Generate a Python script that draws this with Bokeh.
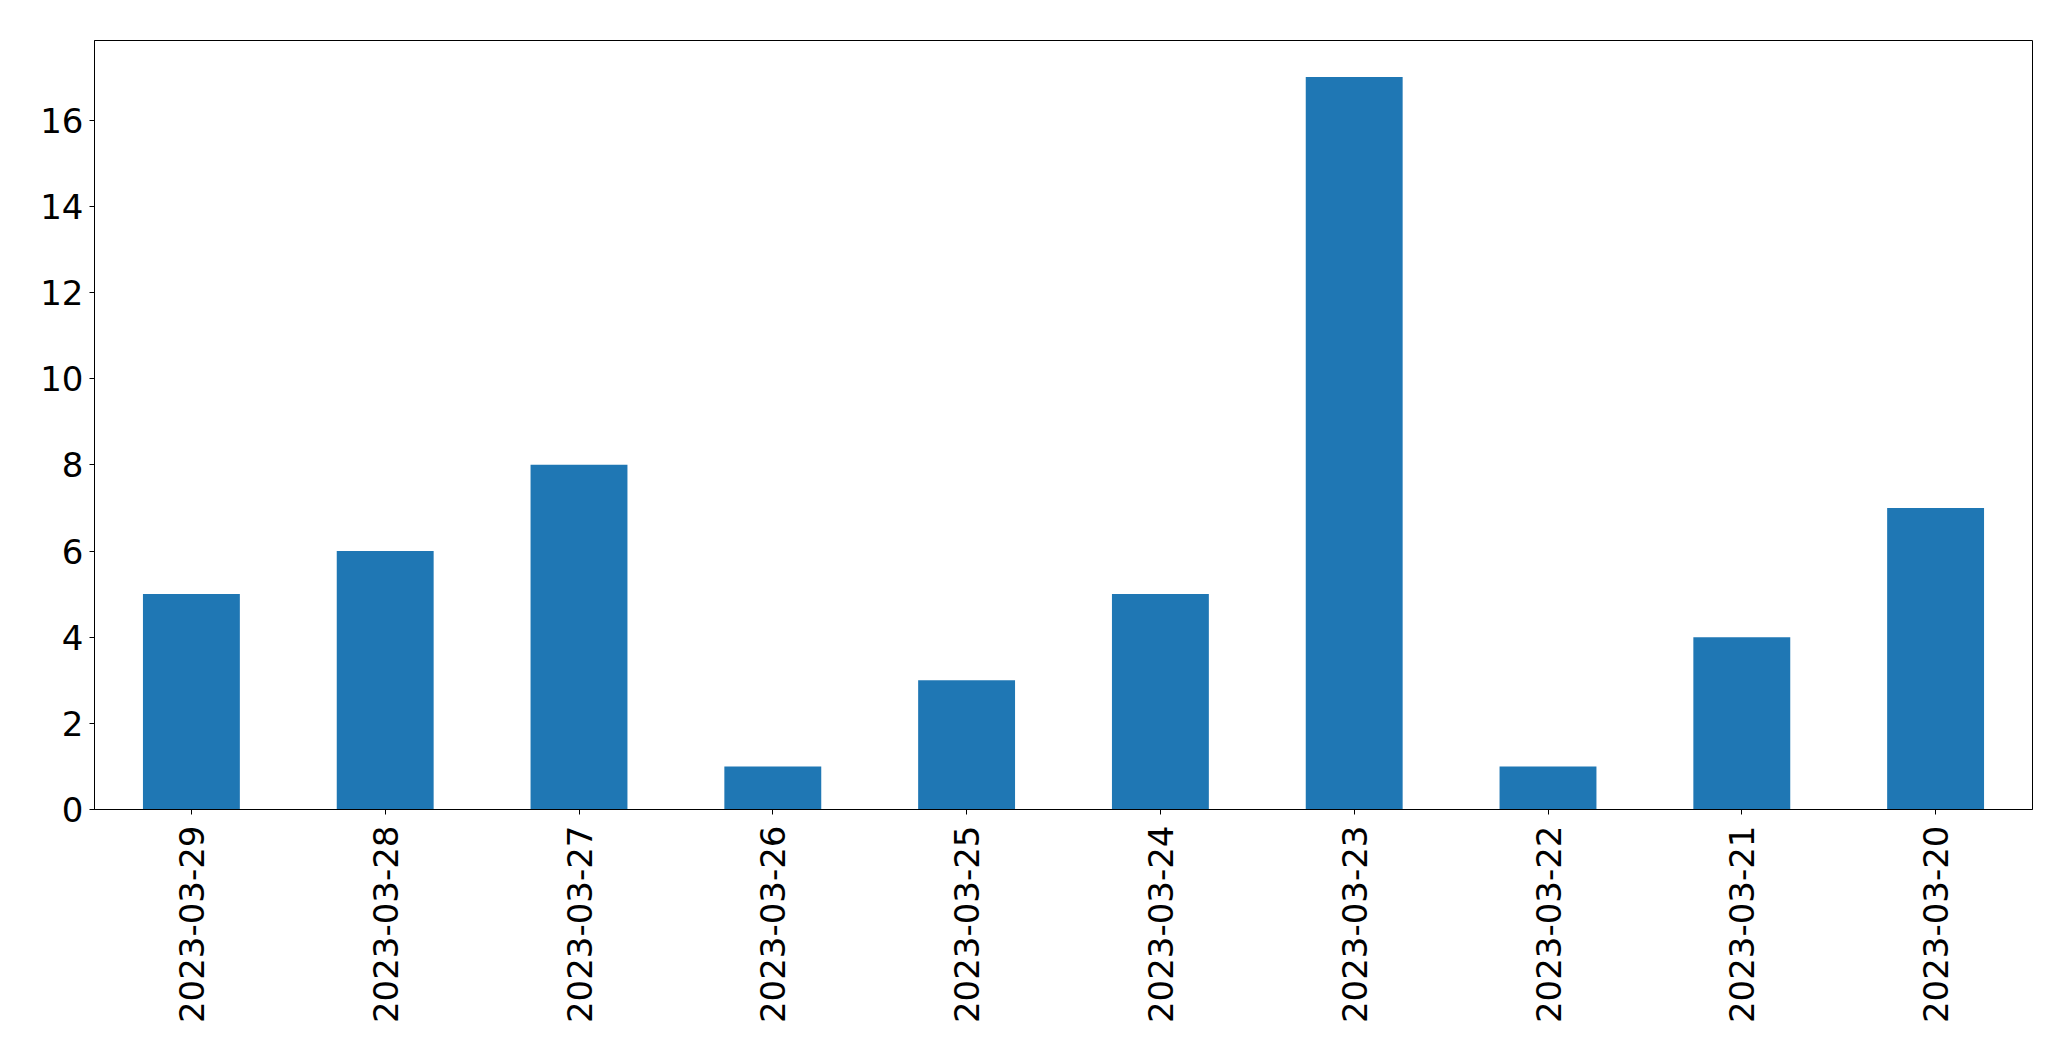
import math
from bokeh.plotting import figure
from bokeh.models import FactorRange, Range1d, FixedTicker
from bokeh.embed import file_html
from bokeh.resources import INLINE

dates = ["2023-03-29", "2023-03-28", "2023-03-27", "2023-03-26", "2023-03-25",
         "2023-03-24", "2023-03-23", "2023-03-22", "2023-03-21", "2023-03-20"]
counts = [5, 6, 8, 1, 3, 5, 17, 1, 4, 7]
y_ticks = [0, 2, 4, 6, 8, 10, 12, 14, 16]

p = figure(x_range=FactorRange(factors=dates, range_padding=0),
           y_range=Range1d(0, max(counts) * 1.05),
           width=2055, height=1045,
           min_border_left=94, min_border_right=23,
           min_border_top=40, min_border_bottom=236,
           output_backend="svg", toolbar_location=None)

p.vbar(x=dates, top=counts, width=0.5, color="#1f77b4", line_color=None)

p.xgrid.visible = False
p.ygrid.visible = False
p.outline_line_color = "black"
p.outline_line_alpha = 1
p.outline_line_width = 1

for ax in (p.xaxis[0], p.yaxis[0]):
    ax.axis_line_color = "black"
    ax.major_tick_line_color = "black"
    ax.major_tick_out = 5
    ax.major_tick_in = 0
    ax.minor_tick_line_color = None
    ax.major_label_text_font = "DejaVu Sans"
    ax.major_label_text_font_size = "34px"
    ax.major_label_text_color = "black"

p.yaxis[0].ticker = FixedTicker(ticks=y_ticks)
p.yaxis[0].major_label_standoff = 6
p.xaxis[0].major_label_orientation = math.pi / 2
p.xaxis[0].major_label_standoff = 11

open("out.html", "w").write(file_html(p, INLINE))
